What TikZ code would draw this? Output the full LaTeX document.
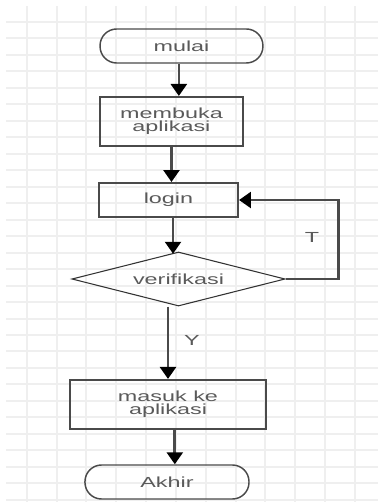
\documentclass[tikz,border=0pt]{standalone}
\usepackage{fontspec}
\newfontfamily\flowfont[FakeStretch=1.6]{Liberation Sans}
\usetikzlibrary{shapes.geometric,arrows.meta,calc}
\definecolor{gridgray}{HTML}{EFEFEF}
\definecolor{linegray}{HTML}{4A4A4A}
\definecolor{textgray}{HTML}{5A5A5A}

\begin{document}
\begin{tikzpicture}[every node/.style={font=\flowfont\fontsize{11}{9.8}\selectfont, text=textgray, align=center, inner sep=0pt},
    term/.style={draw=linegray, line width=1.1pt, rounded corners=0.44cm, minimum width=4.31cm, minimum height=0.9cm},
    proc/.style={draw=linegray, line width=1.5pt, minimum height=1.3cm},
    decision/.style={diamond, aspect=3.94, draw=black!80, line width=0.8pt, minimum width=5.64cm, minimum height=1.43cm},
    flow/.style={draw=linegray, line width=2pt, -{Triangle[width=12pt,length=9pt,color=black]}}]
    \useasboundingbox (0,0) rectangle (10.001,13.282);
    % background grid
    \begin{scope}
        \clip (0.159,0) rectangle (10.001,13.097);
        \foreach \i in {0,...,11}
            \draw[gridgray, line width=1.5pt] ({0.706+0.7898*\i},0) -- ++(0,13.3);
        \foreach \j in {0,...,29}
            \draw[gridgray, line width=1.5pt] (0,{12.708-0.4363*\j}) -- ++(10.1,0);
    \end{scope}
    % shapes
    \node[term] (mulai) at (4.802,12.065) {mulai};
    \node[proc, minimum width=3.78cm] (buka) at (4.537,10.067) {membuka\\aplikasi};
    \node[proc, minimum width=3.68cm, minimum height=0.9cm] (login) at (4.458,7.990) {login};
    \node[decision] (verif) at (4.723,5.900) {verifikasi};
    \node[proc, minimum width=5.19cm] (masuk) at (4.445,2.580) {masuk ke\\aplikasi};
    \node[term, minimum width=4.34cm] (akhir) at (4.418,0.529) {Akhir};
    \node (lblT) at (8.255,7.011) {T};
    \node (lblY) at (5.080,4.286) {Y};
    % arrows
    \draw[flow] ($(mulai.south)+(-0.07,0)$) -- ($(mulai.south |- buka.north)+(-0.07,0)$);
    \draw[flow] (buka.south) -- (buka.south |- login.north);
    \draw[flow] ($(login.south)+(0.12,0)$) -- ($(login.south |- verif.north)+(0.12,-0.06)$);
    \draw[flow] (masuk.north |- verif.south) -- (masuk.north);
    \draw[flow] ($(masuk.south)+(0.18,0)$) -- ($(masuk.south |- akhir.north)+(0.18,0)$);
    \draw[flow] (verif.east) -- ++(1.40,0) |- (login.east);
\end{tikzpicture}
\end{document}
